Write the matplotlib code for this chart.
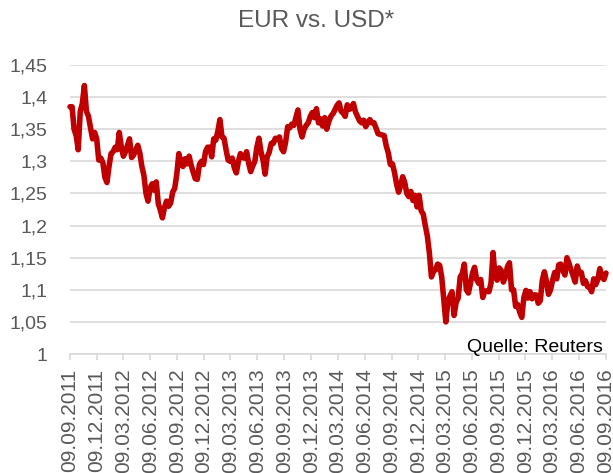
import matplotlib
matplotlib.use("Agg")
import matplotlib.pyplot as plt
import pandas as pd

# ---------------- data (weekly EUR/USD) ----------------
eur_2011 = [1.385, 1.385, 1.350, 1.340, 1.318, 1.378, 1.390, 1.418, 1.378, 1.370,
            1.352, 1.335, 1.345, 1.335, 1.302, 1.305, 1.298]
eur_2012 = [1.275, 1.267, 1.292, 1.312, 1.315, 1.322, 1.318, 1.345, 1.322, 1.308,
            1.315, 1.325, 1.335, 1.306, 1.310, 1.318, 1.325, 1.313, 1.292, 1.278,
            1.250, 1.238, 1.258, 1.265, 1.255, 1.268, 1.234, 1.224, 1.212, 1.228,
            1.238, 1.230, 1.235, 1.252, 1.258, 1.280, 1.312, 1.298, 1.292, 1.304,
            1.296, 1.308, 1.294, 1.283, 1.273, 1.272, 1.295, 1.300, 1.295, 1.315,
            1.322, 1.322]
eur_2013 = [1.307, 1.335, 1.333, 1.347, 1.365, 1.338, 1.336, 1.318, 1.302, 1.300,
            1.305, 1.290, 1.282, 1.300, 1.312, 1.306, 1.305, 1.315, 1.297, 1.284,
            1.293, 1.300, 1.322, 1.336, 1.315, 1.302, 1.280, 1.307, 1.314, 1.328,
            1.328, 1.336, 1.334, 1.338, 1.320, 1.315, 1.330, 1.354, 1.352, 1.358,
            1.356, 1.368, 1.380, 1.350, 1.338, 1.350, 1.356, 1.360, 1.370, 1.376,
            1.368, 1.382]
eur_2014 = [1.360, 1.366, 1.355, 1.368, 1.350, 1.362, 1.370, 1.374, 1.380, 1.387,
            1.391, 1.378, 1.375, 1.370, 1.388, 1.381, 1.383, 1.390, 1.377, 1.370,
            1.363, 1.360, 1.364, 1.354, 1.360, 1.365, 1.360, 1.360, 1.352, 1.343,
            1.342, 1.341, 1.340, 1.324, 1.313, 1.295, 1.296, 1.283, 1.265, 1.252,
            1.262, 1.276, 1.267, 1.250, 1.245, 1.253, 1.239, 1.247, 1.229, 1.247,
            1.223, 1.218]
eur_2015 = [1.200, 1.184, 1.157, 1.120, 1.129, 1.131, 1.140, 1.138, 1.120, 1.085,
            1.050, 1.082, 1.090, 1.097, 1.060, 1.080, 1.087, 1.120, 1.125, 1.140,
            1.100, 1.095, 1.110, 1.126, 1.135, 1.116, 1.110, 1.116, 1.088, 1.098,
            1.098, 1.097, 1.110, 1.158, 1.120, 1.115, 1.134, 1.130, 1.112, 1.120,
            1.136, 1.142, 1.100, 1.100, 1.074, 1.077, 1.065, 1.057, 1.088, 1.099,
            1.087, 1.097]
eur_2016 = [1.086, 1.092, 1.092, 1.079, 1.083, 1.115, 1.128, 1.113, 1.093, 1.100,
            1.115, 1.127, 1.117, 1.139, 1.140, 1.130, 1.123, 1.150, 1.141, 1.131,
            1.122, 1.112, 1.137, 1.126, 1.127, 1.110, 1.114, 1.105, 1.104, 1.097,
            1.117, 1.108, 1.116, 1.133, 1.120, 1.116, 1.126]

start_date = "2011-09-09"
end_date = "2016-09-09"
y_ticks = [1.00, 1.05, 1.10, 1.15, 1.20, 1.25, 1.30, 1.35, 1.40, 1.45]
title = "EUR vs. USD*"
source = "Quelle: Reuters"

values = eur_2011 + eur_2012 + eur_2013 + eur_2014 + eur_2015 + eur_2016
dates = pd.date_range(start_date, periods=len(values), freq="7D")
tick_dates = pd.date_range(start_date, end_date, freq=pd.DateOffset(months=3))
tick_labels = [d.strftime("%d.%m.%Y") for d in tick_dates]

# ---------------- figure ----------------
plt.rcParams["font.family"] = ["Liberation Sans", "DejaVu Sans"]
W, H = 613, 473
fig = plt.figure(figsize=(W / 100, H / 100), dpi=100)
ax = fig.add_axes([70 / W, 1 - 354 / H, 536 / W, (354 - 65) / H])

grid_c = "#d9d9d9"
text_c = "#595959"

ax.plot(dates, values, color="#c00000", lw=4.0, solid_joinstyle="round",
        solid_capstyle="round", zorder=3, clip_on=False)

ax.set_ylim(y_ticks[0], y_ticks[-1])
ax.set_yticks(y_ticks)
ax.set_yticklabels([f"{v:g}".replace(".", ",") for v in y_ticks])
ax.set_xlim(pd.Timestamp(start_date), pd.Timestamp(end_date))
ax.set_xticks(tick_dates)
ax.set_xticklabels(tick_labels, rotation=90, va="top", ha="center")

ax.grid(axis="y", color=grid_c, lw=1.2, zorder=0)
ax.set_axisbelow(True)
for s in ["top", "right", "left"]:
    ax.spines[s].set_visible(False)
ax.spines["bottom"].set_color(grid_c)
ax.spines["bottom"].set_linewidth(1.2)

ax.tick_params(axis="y", length=0, pad=16, labelsize=14, labelcolor=text_c)
ax.tick_params(axis="x", length=4.5, width=1.2, color=grid_c, pad=6,
               labelsize=15, labelcolor=text_c)

fig.text(316 / W, 1 - 27 / H, title, ha="center", va="baseline",
         fontsize=17.5, color=text_c)
fig.text(603 / W, 1 - 352 / H, source, ha="right", va="baseline",
         fontsize=14, color="black")

fig.savefig("out.png", dpi=100)
